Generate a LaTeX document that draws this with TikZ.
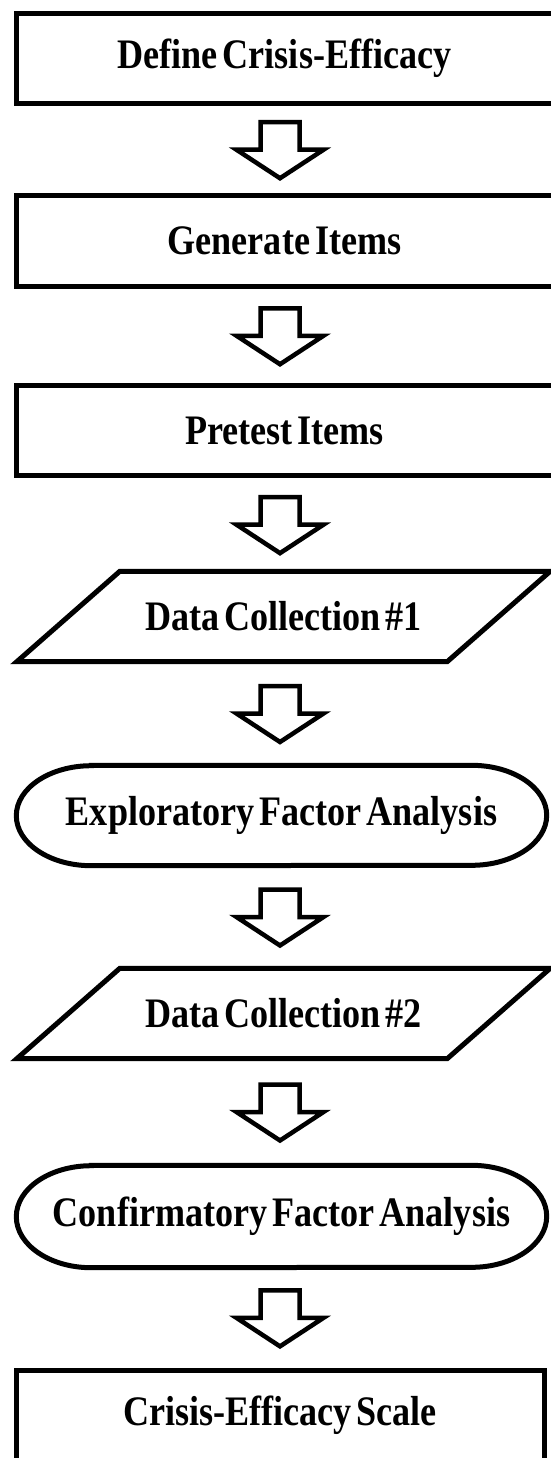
\documentclass[tikz,border=0pt]{standalone}
\usepackage{fontspec}
\newfontfamily\chartfont{Liberation Serif}[FakeStretch=0.86,WordSpace=0.55]
\usetikzlibrary{positioning}

\tikzset{
  label font/.style={font=\chartfont\bfseries\fontsize{42}{50}\selectfont},
  box/.style={draw,line width=5pt,minimum width=537pt,minimum height=90pt,inner sep=0pt,label font},
  frame/.style={minimum width=533pt,minimum height=90pt,inner sep=0pt,label font},
  outline/.style={line width=5pt},
  pics/flow/.style={code={
    \draw[line width=4.5pt,fill=white] (-19.5,27.5) -- (19.5,27.5) -- (19.5,0) -- (43.5,0)
      -- (0,-28.5) -- (-43.5,0) -- (-19.5,0) -- cycle;}}
}

\begin{document}
\begin{tikzpicture}[x=1pt,y=1pt,on grid]
\useasboundingbox (0,0) rectangle (550,-1458);
                \node[box] (define) at (284.5,-58.5) {Define Crisis-Efficacy};
                \node[box] (generate) [below=182.5pt of define] {Generate Items};
                \node[box] (pretest) [below=189.5pt of generate] {Pretest Items};
                \node[frame] (data1) [below=186pt of pretest,xshift=-1pt] {Data Collection \#1};
                \node[frame,minimum width=530pt,minimum height=100pt] (efa) [below=199pt of data1,xshift=-2pt] {Exploratory Factor Analysis};
                \node[frame] (data2) [below=198pt of efa,xshift=2pt] {Data Collection \#2};
                \node[frame,minimum width=530pt,minimum height=102pt] (cfa) [below=203pt of data2,xshift=-2pt] {Confirmatory Factor Analysis};
                \node[box,minimum width=528pt] (scale) [below=199pt of cfa,xshift=-1.5pt] {Crisis-Efficacy Scale};
                \coordinate (axis) at (280,0);
                % slanted data boxes
                \foreach \n in {data1,data2}
                  \draw[outline] ([xshift=103pt]\n.north west) -- (\n.north east)
                    -- ([xshift=-103pt]\n.south east) -- (\n.south west) -- cycle;
                % rounded analysis boxes
                \foreach \n/\r in {efa/50,cfa/51}
                  \draw[outline] ([xshift=75pt]\n.north west) -- ([xshift=-75pt]\n.north east)
                    arc[start angle=90,end angle=-90,x radius=75pt,y radius=\r pt]
                    -- ([xshift=75pt]\n.south west)
                    arc[start angle=270,end angle=90,x radius=75pt,y radius=\r pt] -- cycle;
                % block arrows
                \foreach \a/\b in {define/generate,generate/pretest,pretest/data1,data1/efa,efa/data2,data2/cfa,cfa/scale} {
                  \path (\a) -- coordinate[midway] (mid) (\b);
                  \pic at (axis |- mid) {flow};
                }
            \end{tikzpicture}
\end{document}
